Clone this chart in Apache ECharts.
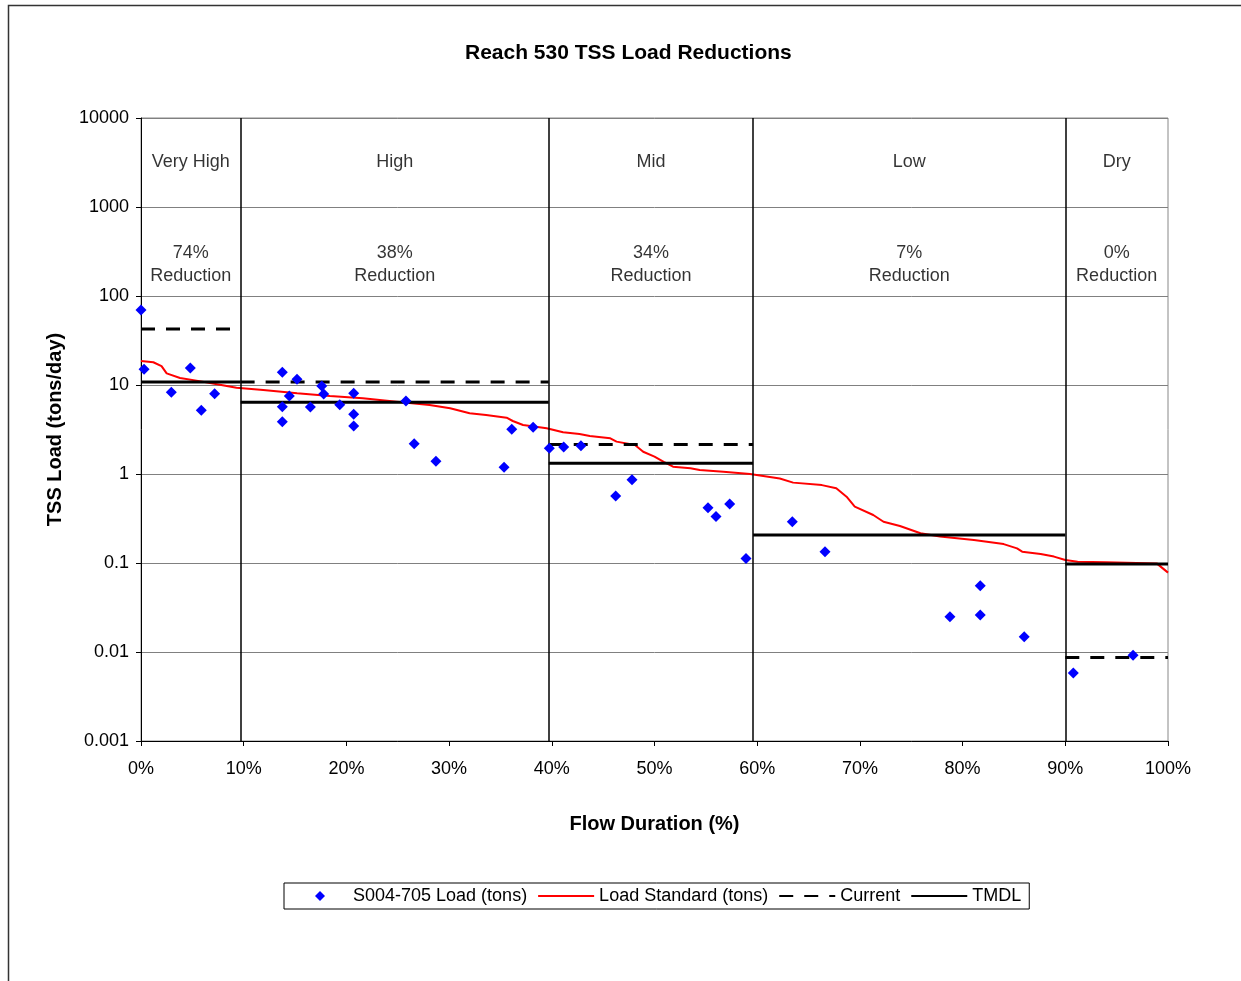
<!DOCTYPE html>
<html>
<head>
<meta charset="utf-8">
<script src="https://cdn.jsdelivr.net/npm/echarts@6/dist/echarts.min.js"></script>
<style>
html,body{margin:0;padding:0;background:#fff;}
#chart{width:1241px;height:981px;}
</style>
</head>
<body>
<div id="chart"></div>
<script>
// ---- data ----
const obsPct  = [0, 0.3, 2.95, 4.8, 5.87, 7.17, 13.76, 13.76, 13.76, 14.44, 15.19, 16.49, 17.6, 17.79, 19.35, 20.71, 20.71, 20.71, 25.8, 26.6, 28.72, 35.35, 36.1, 38.18, 39.76, 41.16, 42.84, 46.22, 47.81, 55.21, 55.99, 57.32, 58.91, 63.42, 66.6, 78.77, 81.72, 81.72, 86.0, 90.78, 96.6];
const obsLoad = [69.6, 15.0, 8.3, 15.5, 5.2, 8.0, 13.9, 5.7, 3.87, 7.5, 11.6, 5.66, 9.75, 7.92, 6.0, 8.07, 4.69, 3.46, 6.61, 2.19, 1.39, 1.19, 3.18, 3.35, 1.95, 2.01, 2.08, 0.566, 0.863, 0.418, 0.334, 0.46, 0.112, 0.291, 0.134, 0.0249, 0.0556, 0.026, 0.0148, 0.0058, 0.0092];

const stdPct  = [0, 1.2, 2.0, 2.5, 3.8, 5.4, 7.0, 9.3, 11.9, 15.2, 18.4, 21.6, 24.9, 28.1, 30.1, 32.0, 33.6, 35.6, 36.2, 37.2, 39.5, 41.1, 42.7, 43.7, 45.7, 46.3, 48.1, 48.9, 50.0, 50.9, 51.8, 53.5, 54.4, 56.7, 59.3, 62.2, 63.5, 66.3, 67.7, 68.7, 69.5, 71.3, 72.3, 73.9, 75.9, 77.8, 81.1, 84.0, 85.3, 85.8, 87.6, 88.9, 90.0, 91.2, 94.0, 98.9, 100];
const stdLoad = [18.6, 18.0, 16.3, 13.5, 12.0, 11.2, 10.4, 9.3, 8.8, 8.07, 7.5, 7.1, 6.5, 5.96, 5.47, 4.81, 4.6, 4.29, 3.94, 3.55, 3.26, 2.94, 2.81, 2.67, 2.52, 2.31, 2.12, 1.78, 1.57, 1.37, 1.21, 1.16, 1.11, 1.06, 1.0, 0.89, 0.80, 0.75, 0.69, 0.556, 0.43, 0.346, 0.291, 0.26, 0.216, 0.198, 0.181, 0.163, 0.146, 0.134, 0.126, 0.118, 0.108, 0.103, 0.102, 0.099, 0.078];

const zoneNames  = ['Very High', 'High', 'Mid', 'Low', 'Dry'];
const zoneBounds = [0, 9.7, 39.7, 59.6, 90, 100];
const currentLoad = [42.6, 10.8, 2.15, null, 0.0087];
const tmdlLoad    = [10.8, 6.4, 1.32, 0.206, 0.0975];
const reductions  = ['74%', '38%', '34%', '7%', '0%'];

const yTickLabels = ['0.001', '0.01', '0.1', '1', '10', '100', '1000', '10000'];
const seriesNames = ['S004-705 Load (tons)', 'Load Standard (tons)', 'Current', 'TMDL'];

// ---- build ----
function segs(vals) {
  const out = [];
  vals.forEach((v, i) => {
    if (v == null) return;
    out.push([zoneBounds[i], v]);
    out.push([zoneBounds[i + 1], v]);
    out.push([zoneBounds[i + 1], '-']);
  });
  return out;
}
const mid = i => (zoneBounds[i] + zoneBounds[i + 1]) / 2;

const chart = echarts.init(document.getElementById('chart'));
const FONT = 'Liberation Sans';
chart.setOption({
  backgroundColor: '#fff',
  animation: false,
  textStyle: { fontFamily: FONT, color: '#000' },
  title: {
    text: 'Reach 530 TSS Load Reductions',
    left: 460, top: 38,
    textStyle: { fontFamily: FONT, fontSize: 21, fontWeight: 'bold', color: '#000' }
  },
  graphic: [{
    type: 'rect', left: 6, top: 3, z: -1,
    shape: { width: 1400, height: 1200 },
    style: { fill: 'none', stroke: '#333', lineWidth: 1.5 }
  }],
  legend: {
    left: 284, top: 883,
    data: [
      { name: seriesNames[0], icon: 'path://M0,-1L1,0L0,1L-1,0Z' },
      { name: seriesNames[1], itemStyle: { opacity: 0 } },
      { name: seriesNames[2], itemStyle: { opacity: 0 } },
      { name: seriesNames[3], itemStyle: { opacity: 0 } }
    ],
    symbolKeepAspect: true,
    borderColor: '#000', borderWidth: 1, padding: [4, 8, 4, 31],
    itemWidth: 56, itemHeight: 10, itemGap: 10,
    textStyle: { fontFamily: FONT, fontSize: 18, color: '#000' }
  },
  grid: {
    left: 141, right: 73, top: 118, bottom: 240,
    show: true, borderColor: '#888', borderWidth: 1, backgroundColor: '#fff'
  },
  xAxis: {
    type: 'value', min: 0, max: 100, interval: 10,
    name: 'Flow Duration (%)', nameLocation: 'middle', nameGap: 73,
    nameTextStyle: { fontFamily: FONT, fontSize: 20, fontWeight: 'bold', color: '#000' },
    axisLine: { show: true, onZero: false, lineStyle: { color: '#000', width: 1 } },
    axisTick: { show: true, length: 5, inside: false, lineStyle: { color: '#000' } },
    axisLabel: { formatter: '{value}%', fontSize: 18, color: '#000', margin: 19, fontFamily: FONT },
    splitLine: { show: false }
  },
  yAxis: {
    type: 'log', logBase: 10, min: 0.001, max: 10000,
    name: 'TSS Load (tons/day)', nameLocation: 'middle', nameGap: 76,
    nameTextStyle: { fontFamily: FONT, fontSize: 20, fontWeight: 'bold', color: '#000' },
    axisLine: { show: true, lineStyle: { color: '#000', width: 1 } },
    axisTick: { show: true, length: 5, inside: false, lineStyle: { color: '#000' } },
    axisLabel: {
      fontSize: 18, color: '#000', margin: 12, fontFamily: FONT,
      formatter: v => yTickLabels[Math.round(Math.log10(v)) + 3]
    },
    splitLine: { show: true, lineStyle: { color: '#808080', width: 1 } }
  },
  series: [
    {
      name: 'zones', type: 'scatter', symbolSize: 0, silent: true, z: 1,
      data: zoneNames.map((n, i) => [mid(i), 3162, n]).concat(
            reductions.map((r, i) => [mid(i), 223, r + '\nReduction'])),
      label: {
        show: true, position: 'inside', fontSize: 18, color: '#000', fontFamily: FONT, lineHeight: 23,
        formatter: p => p.data[2]
      },
      markLine: {
        silent: true, symbol: 'none', label: { show: false },
        lineStyle: { color: '#000', type: 'solid', width: 1.5 },
        data: zoneBounds.slice(1, 5).map(b => ({ xAxis: b }))
      }
    },
    {
      name: seriesNames[1], type: 'line', showSymbol: false, symbol: 'none', z: 3,
      lineStyle: { color: '#ff0000', width: 2 }, itemStyle: { color: '#ff0000' },
      data: stdPct.map((p, i) => [p, stdLoad[i]])
    },
    {
      name: seriesNames[2], type: 'line', showSymbol: false, symbol: 'none', z: 4,
      connectNulls: false,
      lineStyle: { color: '#000', width: 3, type: [14, 11] }, itemStyle: { color: '#000' },
      data: segs(currentLoad)
    },
    {
      name: seriesNames[3], type: 'line', showSymbol: false, symbol: 'none', z: 4,
      connectNulls: false,
      lineStyle: { color: '#000', width: 3 }, itemStyle: { color: '#000' },
      data: segs(tmdlLoad)
    },
    {
      name: seriesNames[0], type: 'scatter', symbol: 'diamond', symbolSize: 11, z: 5,
      itemStyle: { color: '#0000ff', opacity: 1 },
      data: obsPct.map((p, i) => [p, obsLoad[i]])
    }
  ]
});
</script>
</body>
</html>
